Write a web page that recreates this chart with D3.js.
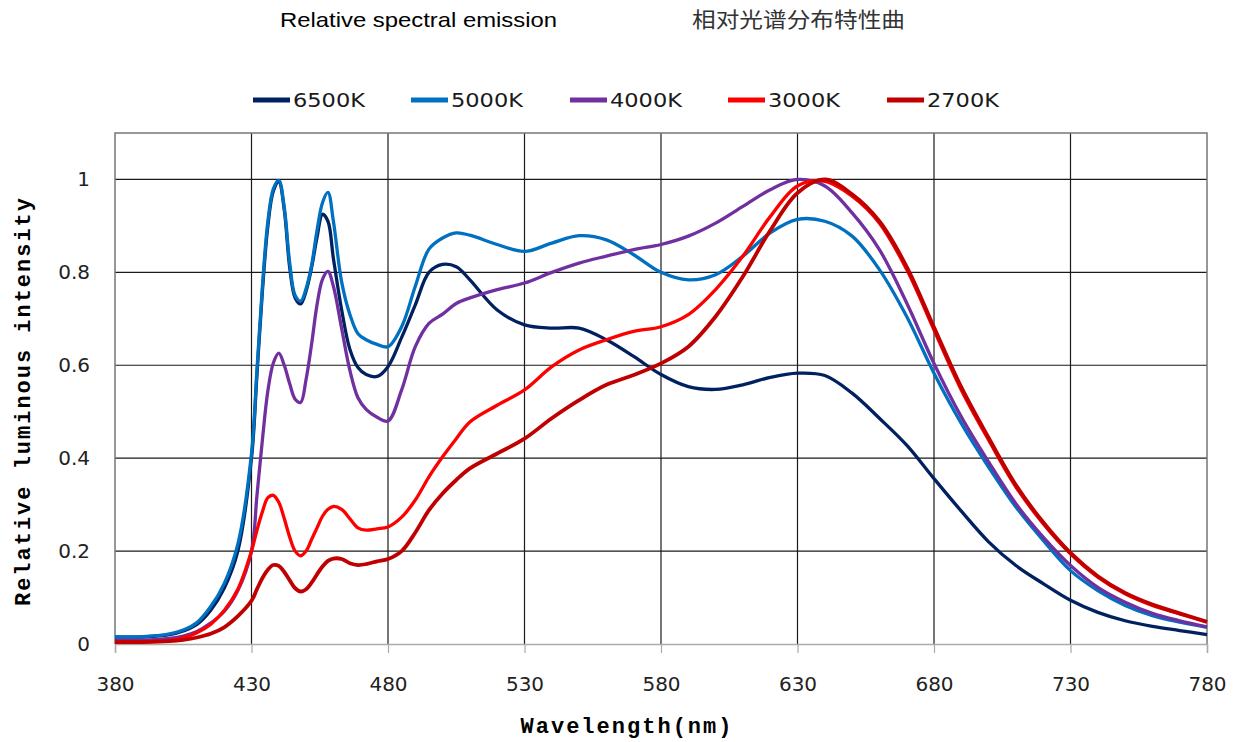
<!DOCTYPE html>
<html>
<head>
<meta charset="utf-8">
<script src="https://cdn.jsdelivr.net/npm/d3@7"></script>
<style>
  body { margin: 0; background: #fff; }
  svg { display: block; }
</style>
</head>
<body>
<svg id="chart" width="1239" height="742"></svg>
<script>
// wavelengths (nm) shared by all series
var wavelengths = [380,390,400,405,410,415,420,425,
  430,432,434,436,438,440,442,444,446,448,450,452,454,456,458,460,463,466,469,472,476,480,
  485,490,495,500,505,510,
  520,530,540,550,560,570,580,590,600,610,620,630,
  640,650,660,670,680,690,700,710,720,730,740,750,760,770,780];

var k6500 = [.015,.015,.02,.028,.042,.072,.12,.2,
  .40,.58,.76,.90,.975,.995,.935,.81,.745,.732,.76,.81,.875,.925,.91,.83,.72,.635,.595,.58,.576,.597,
  .66,.73,.80,.817,.812,.784,
  .719,.687,.68,.68,.655,.619,.58,.554,.548,.558,.574,.583,
  .578,.54,.486,.428,.356,.286,.22,.169,.13,.094,.068,.05,.038,.029,.02];

var k5000 = [.016,.016,.022,.03,.046,.08,.13,.215,
  .41,.59,.77,.91,.98,.998,.94,.82,.75,.738,.765,.815,.89,.95,.972,.91,.78,.71,.668,.655,.645,.64,
  .683,.77,.85,.874,.885,.88,
  .86,.845,.863,.879,.87,.838,.80,.784,.795,.835,.885,.914,
  .91,.878,.806,.705,.583,.475,.381,.295,.223,.158,.115,.083,.061,.047,.036];

var k4000 = [.008,.008,.012,.017,.027,.045,.07,.115,
  .2,.32,.44,.545,.605,.626,.60,.56,.527,.52,.57,.645,.73,.785,.802,.77,.68,.59,.53,.505,.488,.48,
  .547,.64,.69,.71,.733,.745,
  .763,.777,.80,.82,.835,.849,.86,.878,.906,.942,.978,1.0,
  .986,.928,.849,.734,.604,.489,.392,.302,.23,.169,.122,.09,.066,.05,.037];

var k3000 = [.005,.005,.008,.013,.024,.042,.072,.118,
  .20,.245,.285,.315,.32,.305,.27,.23,.20,.19,.20,.225,.25,.275,.29,.296,.29,.27,.25,.245,.248,.252,
  .273,.31,.36,.403,.442,.478,
  .514,.547,.597,.633,.655,.673,.683,.709,.763,.835,.92,.986,
  .996,.964,.906,.806,.676,.547,.439,.338,.259,.194,.144,.108,.083,.065,.047];

var k2700 = [.004,.004,.006,.009,.014,.022,.036,.06,
  .093,.118,.142,.16,.17,.168,.155,.137,.12,.113,.118,.132,.15,.167,.179,.184,.183,.174,.17,.172,.178,.183,
  .20,.24,.288,.324,.353,.378,
  .41,.442,.486,.525,.558,.579,.604,.64,.705,.791,.89,.971,
  1.0,.968,.91,.812,.682,.553,.444,.342,.262,.196,.146,.11,.085,.066,.048];

var seriesNames = ["6500K","5000K","4000K","3000K","2700K"];
var seriesValues = [k6500, k5000, k4000, k3000, k2700];
var seriesColors = ["#002060","#0070C0","#7030A0","#FF0000","#C00000"];

var xTicks = [380,430,480,530,580,630,680,730,780];
var yTicks = [0,0.2,0.4,0.6,0.8,1];

(function() {
var svg = d3.select("#chart");
var pl = 115, pr = 1207, pt = 133, pb = 644;

var x = d3.scaleLinear().domain([380,780]).range([pl,pr]);
var y = d3.scaleLinear().domain([0,1.1]).range([pb,pt]);

// titles
svg.append("text").attr("x",280).attr("y",27)
  .style("font-family","'Liberation Sans',Arial,sans-serif").style("font-size","21px")
  .attr("fill","#000").attr("textLength",277).attr("lengthAdjust","spacingAndGlyphs")
  .text("Relative spectral emission");
svg.append("text").attr("x",692).attr("y",27)
  .style("font-family","'Noto Sans CJK SC',sans-serif").style("font-size","21px")
  .attr("fill","#333").attr("textLength",213).attr("lengthAdjust","spacingAndGlyphs")
  .text("相对光谱分布特性曲");

// grid
var grid = svg.append("g");
grid.selectAll("line.v").data(xTicks.slice(1,-1)).enter().append("line")
  .attr("x1",function(d){return x(d);}).attr("x2",function(d){return x(d);})
  .attr("y1",pt).attr("y2",pb)
  .attr("stroke","#1a1a1a").attr("stroke-width",1.2);
grid.selectAll("line.h").data(yTicks.slice(1)).enter().append("line")
  .attr("x1",pl).attr("x2",pr)
  .attr("y1",function(d){return y(d);}).attr("y2",function(d){return y(d);})
  .attr("stroke","#1a1a1a").attr("stroke-width",1.2);
// border
svg.append("path")
  .attr("d","M"+pl+","+pb+"V"+pt+"H"+pr+"V"+pb)
  .attr("fill","none").attr("stroke","#777").attr("stroke-width",1.5);

// x axis
var xAxis = svg.append("g").attr("transform","translate(0,"+pb+")")
  .call(d3.axisBottom(x).tickValues(xTicks).tickSize(9).tickPadding(24).tickFormat(d3.format("d")));
xAxis.select(".domain").attr("stroke","#aaa").attr("stroke-width",1.5);
xAxis.selectAll(".tick line").attr("stroke","#aaa").attr("stroke-width",1.2);
xAxis.selectAll("text").style("font-family","'DejaVu Sans',sans-serif").style("font-size","20px").attr("fill","#222");

// y axis
var yAxis = svg.append("g").attr("transform","translate("+pl+",0)")
  .call(d3.axisLeft(y).tickValues(yTicks).tickSize(0).tickPadding(25).tickFormat(function(d){return String(d);}));
yAxis.select(".domain").remove();
yAxis.selectAll("text").style("font-family","'DejaVu Sans',sans-serif").style("font-size","20px").attr("fill","#222");

// axis titles
svg.append("text").attr("x",626).attr("y",733).attr("text-anchor","middle")
  .style("font-family","'Liberation Mono',monospace").style("font-size","22px").style("font-weight","bold")
  .attr("textLength",211).text("Wavelength(nm)");
svg.append("text").attr("transform","translate(30,402) rotate(-90)").attr("text-anchor","middle")
  .style("font-family","'Liberation Mono',monospace").style("font-size","22px").style("font-weight","bold")
  .attr("textLength",408).text("Relative luminous intensity");

// lines
var line = d3.line()
  .x(function(d){return x(d[0]);})
  .y(function(d){return y(d[1]);})
  .curve(d3.curveCatmullRom.alpha(0.5));

seriesValues.forEach(function(vals, i) {
  svg.append("path")
    .datum(wavelengths.map(function(w, j){return [w, vals[j]];}))
    .attr("fill","none").attr("stroke",seriesColors[i])
    .attr("stroke-width",i == 4 ? 3.8 : 3.3).attr("stroke-linejoin","round")
    .attr("d",line);
});

// legend
var legendX = [253,411,570,728,887];
var legend = svg.append("g");
seriesNames.forEach(function(name, i) {
  legend.append("line").attr("x1",legendX[i]).attr("x2",legendX[i]+37)
    .attr("y1",100).attr("y2",100)
    .attr("stroke",seriesColors[i]).attr("stroke-width",5);
  legend.append("text").attr("x",legendX[i]+40).attr("y",107)
    .style("font-family","'DejaVu Sans',sans-serif").style("font-size","20px")
    .attr("fill","#1a1a1a").attr("textLength",72).attr("lengthAdjust","spacingAndGlyphs")
    .text(name);
});
})();
</script>
</body>
</html>
